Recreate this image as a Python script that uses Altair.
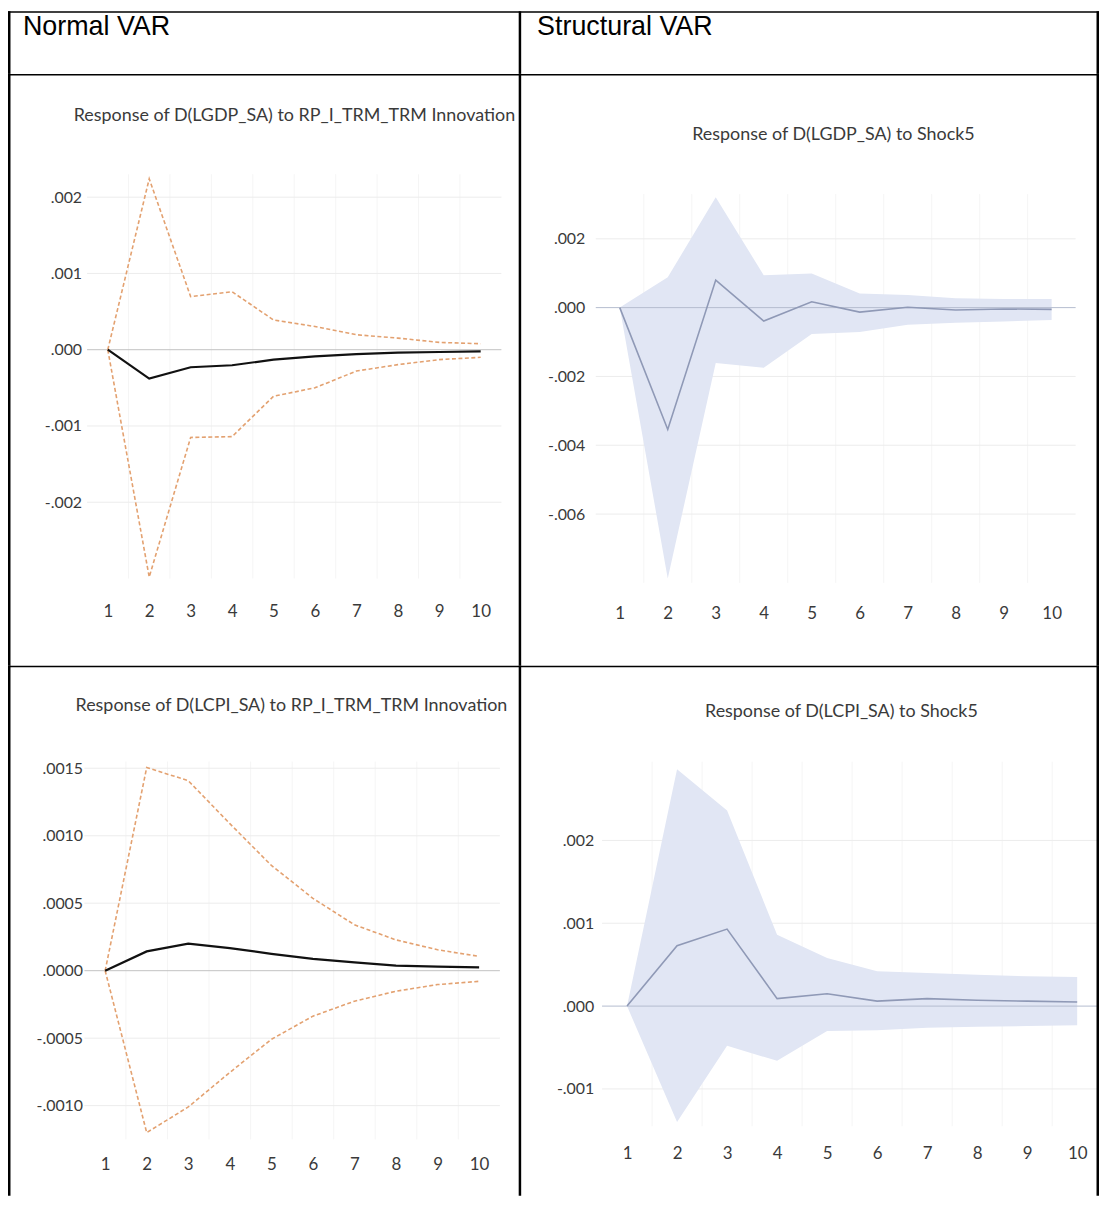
import altair as alt
import pandas as pd

# ---------------- data ----------------
steps = [1, 2, 3, 4, 5, 6, 7, 8, 9, 10]
vgrid = [1.5, 2.5, 3.5, 4.5, 5.5, 6.5, 7.5, 8.5, 9.5]

header_left = "Normal VAR"
header_right = "Structural VAR"

t1 = "Response of D(LGDP_SA) to RP_I_TRM_TRM Innovation"
t2 = "Response of D(LGDP_SA) to Shock5"
t3 = "Response of D(LCPI_SA) to RP_I_TRM_TRM Innovation"
t4 = "Response of D(LCPI_SA) to Shock5"

# Normal VAR, D(LGDP_SA)
g_n_mean = [0, -0.000378, -0.00023, -0.000204, -0.00013, -0.000087, -0.000057, -0.000039, -0.00003, -0.000022]
g_n_upper = [0, 0.00224, 0.000696, 0.00076, 0.00039, 0.000304, 0.000196, 0.000152, 0.000096, 0.000078]
g_n_lower = [0, -0.00298, -0.00115, -0.00114, -0.00061, -0.0005, -0.00028, -0.000196, -0.00013, -0.0001]
g_n_ticks = [-0.002, -0.001, 0.0, 0.001, 0.002]

# Structural VAR, D(LGDP_SA)
g_s_mean = [0, -0.00354, 0.0008, -0.00039, 0.00017, -0.00013, 0.00001, -0.00007, -0.00004, -0.00005]
g_s_upper = [0, 0.00088, 0.00321, 0.00094, 0.00099, 0.00041, 0.00037, 0.00027, 0.00025, 0.00025]
g_s_lower = [0, -0.00787, -0.00161, -0.00175, -0.00077, -0.00071, -0.0005, -0.00044, -0.0004, -0.00036]
g_s_ticks = [-0.006, -0.004, -0.002, 0.0, 0.002]

# Normal VAR, D(LCPI_SA)
c_n_mean = [0, 0.000143, 0.0002, 0.000167, 0.000125, 0.000088, 0.000061, 0.000037, 0.00003, 0.000025]
c_n_upper = [0, 0.001506, 0.001408, 0.00109, 0.00078, 0.000536, 0.00034, 0.000228, 0.000155, 0.000106]
c_n_lower = [0, -0.0012, -0.00101, -0.000754, -0.000509, -0.000337, -0.000226, -0.000152, -0.000103, -0.000079]
c_n_ticks = [-0.001, -0.0005, 0.0, 0.0005, 0.001, 0.0015]

# Structural VAR, D(LCPI_SA)
c_s_mean = [0, 0.00073, 0.00093, 0.00009, 0.00015, 0.00006, 0.00009, 0.00007, 0.00006, 0.00005]
c_s_upper = [0, 0.00286, 0.00236, 0.00086, 0.00058, 0.00042, 0.0004, 0.00038, 0.00036, 0.00035]
c_s_lower = [0, -0.0014, -0.00048, -0.00066, -0.0003, -0.00029, -0.00026, -0.00025, -0.00024, -0.00023]
c_s_ticks = [-0.001, 0.0, 0.001, 0.002]

# ---------------- style ----------------
FONT = "Lato"
TXT = "#3a3a3a"
W_LEFT, W_RIGHT = 515, 582
H_HEAD, H_ROW1, H_ROW2 = 63, 595, 533
VLINE, HLINE = 2.5, 1.5

one = pd.DataFrame({"k": [0]})


def bar(x, x2, y, y2):
    return alt.Chart(one).mark_rect(color="black", strokeWidth=0).encode(
        x=alt.value(x), x2=alt.value(x2), y=alt.value(y), y2=alt.value(y2))


def borders(W, H, left=False, right_x=None):
    layers = [bar(0, W, 0, HLINE)]
    if left:
        layers.append(bar(0, VLINE, 0, H))
    if right_x is not None:
        layers.append(bar(right_x - VLINE / 2, right_x + VLINE / 2, 0, H))
    return layers


def header_cell(W, H, text, tx, right_x, left):
    txt = alt.Chart(pd.DataFrame({"t": [text]})).mark_text(
        font="Liberation Sans", fontSize=27, color="black", align="left", baseline="middle"
    ).encode(x=alt.value(tx), y=alt.value(16), text="t:N")
    return alt.layer(txt, *borders(W, H, left=left, right_x=right_x)).properties(width=W, height=H)


def cell(W, H, xr, yd, yr, yticks, dec, ylab_right, xlab_y, title, tx, ty,
         mean, lower, upper, structural, left, right_x):
    xs = alt.Scale(domain=[0.5, 10.5], range=xr, nice=False, zero=False)
    ys = alt.Scale(domain=yd, range=yr, nice=False, zero=False)
    fmt = "." + str(dec) + "f"
    xaxis = alt.Axis(values=steps, format="d", title=None, grid=False, ticks=False, tickSize=0,
                     domain=False, labelPadding=0, offset=-(H - xlab_y), labelBaseline="middle",
                     labelFont=FONT, labelFontSize=17, labelColor=TXT, labelFlush=False,
                     labelOverlap=False, labelBound=False)
    yaxis = alt.Axis(values=yticks, title=None, grid=False, ticks=False, tickSize=0, domain=False,
                     labelPadding=0, offset=-ylab_right, labelFont=FONT, labelFontSize=16,
                     labelColor=TXT, labelFlush=False, labelOverlap=False, labelBound=False,
                     labelExpr="(datum.value < 0 ? '-' : '') + replace(format(abs(datum.value), '" + fmt + "'), '0.', '.')")

    df = pd.DataFrame({"step": steps, "mean": mean, "lower": lower, "upper": upper})
    X = lambda f: alt.X(f, scale=xs, axis=xaxis)
    Y = lambda f: alt.Y(f, scale=ys, axis=yaxis)
    XD = lambda v: alt.XDatum(v, scale=xs, axis=xaxis)
    YD = lambda v: alt.YDatum(v, scale=ys, axis=yaxis)

    hg = alt.Chart(pd.DataFrame({"v": [t for t in yticks if t != 0]})).mark_rule(
        color="#ececec", strokeWidth=1, clip=True).encode(
        y=Y("v:Q"), x=XD(0.5), x2=alt.X2Datum(10.5))
    vg = alt.Chart(pd.DataFrame({"g": vgrid})).mark_rule(
        color="#f5f5f5", strokeWidth=1, clip=True).encode(
        x=X("g:Q"), y=YD(yd[0]), y2=alt.Y2Datum(yd[1]))
    zero_color = "#b4bccf" if structural else "#c2c2c2"
    zl = alt.Chart(one).mark_rule(color=zero_color, strokeWidth=1, clip=True).encode(
        y=YD(0.0), x=XD(0.5), x2=alt.X2Datum(10.5))
    ttl = alt.Chart(pd.DataFrame({"t": [title]})).mark_text(
        font=FONT, fontSize=18, color=TXT, align="center", baseline="middle"
    ).encode(x=alt.value(tx), y=alt.value(ty), text="t:N")

    base = alt.Chart(df)
    if structural:
        band = base.mark_area(color="#e1e6f4", opacity=1).encode(
            x=X("step:Q"), y=Y("lower:Q"), y2="upper:Q")
        ml = base.mark_line(color="#8f99b6", strokeWidth=1.6).encode(x=X("step:Q"), y=Y("mean:Q"))
        data_layers = [vg, hg, band, zl, ml]
    else:
        up = base.mark_line(color="#e3a170", strokeWidth=1.6, strokeDash=[4, 2.5]).encode(
            x=X("step:Q"), y=Y("upper:Q"))
        lo = base.mark_line(color="#e3a170", strokeWidth=1.6, strokeDash=[4, 2.5]).encode(
            x=X("step:Q"), y=Y("lower:Q"))
        ml = base.mark_line(color="#111111", strokeWidth=2.2).encode(x=X("step:Q"), y=Y("mean:Q"))
        data_layers = [vg, hg, zl, up, lo, ml]

    return alt.layer(*data_layers, ttl, *borders(W, H, left=left, right_x=right_x)).properties(
        width=W, height=H)


hl = header_cell(W_LEFT, H_HEAD, header_left, 15, W_LEFT - 0.25, True)
hr = header_cell(W_RIGHT, H_HEAD, header_right, 17, W_RIGHT - 1.25, False)

c1 = cell(W_LEFT, H_ROW1, [79.5, 496.1], [-0.003, 0.0023], [507.4, 100.9], g_n_ticks, 3, 74, 541,
          t1, 288, 42, g_n_mean, g_n_lower, g_n_upper, False, True, W_LEFT - 0.25)
c2 = cell(W_RIGHT, H_ROW1, [76, 558.5], [-0.008, 0.0033], [511.8, 120.8], g_s_ticks, 3, 65, 543,
          t2, 315, 61, g_s_mean, g_s_lower, g_s_upper, True, False, W_RIGHT - 1.25)
c3 = cell(W_LEFT, H_ROW2, [76.8, 494.6], [-0.00125, 0.00155], [476.3, 96.4], c_n_ticks, 4, 75, 502,
          t3, 285, 41, c_n_mean, c_n_lower, c_n_upper, False, True, W_LEFT - 0.25)
c4 = cell(W_RIGHT, H_ROW2, [82.3, 585.2], [-0.00145, 0.00295], [463.1, 96.6], c_s_ticks, 3, 74, 491,
          t4, 323, 47, c_s_mean, c_s_lower, c_s_upper, True, False, W_RIGHT - 1.25)

row0 = alt.hconcat(hl, hr, spacing=0, bounds="flush")
row1 = alt.hconcat(c1, c2, spacing=0, bounds="flush")
row2 = alt.hconcat(c3, c4, spacing=0, bounds="flush")

chart = alt.vconcat(row0, row1, row2, spacing=0).properties(
    padding=0, background="white"
).configure_view(stroke=None)

chart.save("out.html", embed_options={"renderer": "svg", "actions": False})
